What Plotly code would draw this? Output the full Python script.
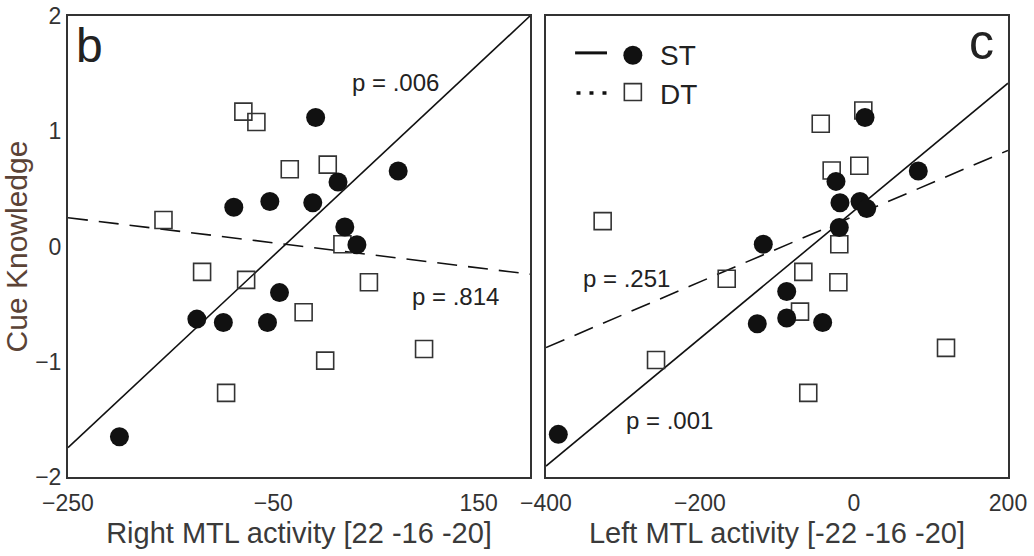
import plotly.graph_objects as go

# ---------------- data ----------------
# Panel b: Right MTL activity [22 -16 -20]
b_st_x = [-8.8, 71.6, 13.0, -88.5, -53.4, -11.6, 19.6, 31.4, -124.5, -98.7, -55.7, -44.0, -199.9]
b_st_y = [1.12, 0.655, 0.56, 0.34, 0.39, 0.38, 0.17, 0.015, -0.63, -0.66, -0.66, -0.40, -1.65]
b_dt_x = [-79.2, -66.5, -34.0, 3.0, -157.0, 17.3, -119.4, -76.5, 43.1, -20.5, 96.8, 0.5, -96.0]
b_dt_y = [1.17, 1.08, 0.67, 0.71, 0.23, 0.02, -0.22, -0.29, -0.31, -0.57, -0.89, -0.99, -1.27]
b_st_fit_x = [-250, 200]
b_st_fit_y = [-1.745, 2.0]
b_dt_fit_x = [-250, 200]
b_dt_fit_y = [0.25, -0.24]

# Panel c: Left MTL activity [-22 -16 -20]
c_st_x = [14.3, 83.5, -23.4, -18.2, 7.8, 16.5, -19.1, -117.8, -87.4, -125.6, -87.4, -40.7, -384.0]
c_st_y = [1.12, 0.655, 0.565, 0.38, 0.39, 0.33, 0.165, 0.02, -0.39, -0.67, -0.62, -0.66, -1.63]
c_dt_x = [12.1, -43.2, -29.0, 6.9, -326.4, -19.1, -165.3, -65.8, -20.3, -70.1, 119.5, -257.1, -59.4]
c_dt_y = [1.18, 1.065, 0.66, 0.70, 0.22, 0.02, -0.28, -0.22, -0.31, -0.565, -0.88, -0.985, -1.27]
c_st_fit_x = [-400, 200]
c_st_fit_y = [-1.905, 1.417]
c_dt_fit_x = [-400, 200]
c_dt_fit_y = [-0.877, 0.834]

b_xticks = [-250, -50, 150]
c_xticks = [-400, -200, 0, 200]
y_ticks = [-2, -1, 0, 1, 2]

p_labels = {
    "b_st": ("p = .006", 69, 1.42),
    "b_dt": ("p = .814", 127, -0.43),
    "c_dt": ("p = .251", -295, -0.28),
    "c_st": ("p = .001", -239, -1.51),
}

FONT = "Liberation Sans, Arial, Helvetica, sans-serif"
INK = "#222222"
FRAME = "#333333"

fig = go.Figure()


def add_panel(xa, ya, st_x, st_y, dt_x, dt_y, sfx, sfy, dfx, dfy):
    fig.add_trace(go.Scatter(x=sfx, y=sfy, mode="lines", xaxis=xa, yaxis=ya,
                             line=dict(color="#111111", width=1.6), showlegend=False,
                             hoverinfo="skip"))
    fig.add_trace(go.Scatter(x=dfx, y=dfy, mode="lines", xaxis=xa, yaxis=ya,
                             line=dict(color="#111111", width=1.6, dash="20px,11px"),
                             showlegend=False, hoverinfo="skip"))
    fig.add_trace(go.Scatter(x=dt_x, y=dt_y, mode="markers", xaxis=xa, yaxis=ya,
                             name="DT",
                             marker=dict(symbol="square-open", size=17, color="#333333",
                                         line=dict(width=1.6, color="#333333")),
                             showlegend=False))
    fig.add_trace(go.Scatter(x=st_x, y=st_y, mode="markers", xaxis=xa, yaxis=ya,
                             name="ST",
                             marker=dict(symbol="circle", size=19, color="#111111",
                                         line=dict(width=0)),
                             showlegend=False))


add_panel("x", "y", b_st_x, b_st_y, b_dt_x, b_dt_y, b_st_fit_x, b_st_fit_y, b_dt_fit_x, b_dt_fit_y)
add_panel("x2", "y2", c_st_x, c_st_y, c_dt_x, c_dt_y, c_st_fit_x, c_st_fit_y, c_dt_fit_x, c_dt_fit_y)

axis_common = dict(showline=True, mirror=True, linecolor=FRAME, linewidth=2,
                   showgrid=False, zeroline=False, ticks="", automargin=False,
                   ticklabeloverflow="allow",
                   tickfont=dict(family=FONT, size=23, color="#333333"))

fig.update_layout(
    width=1034, height=556,
    margin=dict(l=68, r=26, t=16, b=79),
    paper_bgcolor="white", plot_bgcolor="white",
    showlegend=False,
    xaxis=dict(domain=[0, 0.4915], range=[-250, 200], tickvals=b_xticks,
               ticklabelstandoff=4,
               title=dict(text="Right MTL activity [22 -16 -20]", standoff=8,
                          font=dict(family=FONT, size=29, color="#3a3a3a")),
               **axis_common),
    yaxis=dict(range=[-2, 2], tickvals=y_ticks, anchor="x",
               title=dict(text="Cue Knowledge", standoff=4,
                          font=dict(family=FONT, size=30, color="#5b4336")),
               **axis_common),
    xaxis2=dict(domain=[0.5085, 1], range=[-400, 200], tickvals=c_xticks, anchor="y2",
                ticklabelstandoff=4,
                title=dict(text="Left MTL activity [-22 -16 -20]", standoff=8,
                           font=dict(family=FONT, size=29, color="#3a3a3a")),
                **axis_common),
    yaxis2=dict(range=[-2, 2], tickvals=y_ticks, anchor="x2", showticklabels=False,
                **axis_common),
)

annotations = []
for key, (txt, ax_, ay_) in p_labels.items():
    xr, yr = ("x", "y") if key.startswith("b") else ("x2", "y2")
    annotations.append(dict(text=txt, x=ax_, y=ay_, xref=xr, yref=yr, showarrow=False,
                            xanchor="center", yanchor="middle",
                            font=dict(family=FONT, size=24, color=INK)))

annotations.append(dict(text="b", x=0.0465, y=0.935, xref="x domain", yref="y domain",
                        xanchor="center", yanchor="middle",
                        showarrow=False, font=dict(family=FONT, size=48, color=INK)))
annotations.append(dict(text="c", x=0.9416, y=0.944, xref="x2 domain", yref="y2 domain",
                        xanchor="center", yanchor="middle",
                        showarrow=False, font=dict(family=FONT, size=50, color=INK)))
annotations.append(dict(text="ST", x=0.242, y=0.915, xref="x2 domain", yref="y2 domain",
                        xanchor="left", yanchor="middle", showarrow=False,
                        font=dict(family=FONT, size=28, color=INK)))
annotations.append(dict(text="DT", x=0.242, y=0.829, xref="x2 domain", yref="y2 domain",
                        xanchor="left", yanchor="middle", showarrow=False,
                        font=dict(family=FONT, size=28, color=INK)))
fig.update_layout(annotations=annotations)

# hand-made legend glyphs (line + marker)
shapes = [
    dict(type="line", xref="x2 domain", yref="y2 domain", x0=0.063, x1=0.132, y0=0.92, y1=0.92,
         line=dict(color="#111111", width=3)),
    dict(type="circle", xref="x2 domain", yref="y2 domain", x0=0.188 - 0.0206, x1=0.188 + 0.0206,
         y0=0.915 - 0.0206, y1=0.915 + 0.0206, fillcolor="#111111", line=dict(width=0)),
    dict(type="line", xref="x2 domain", yref="y2 domain", x0=0.066, x1=0.135, y0=0.833, y1=0.833,
         line=dict(color="#111111", width=3.5, dash="4px,9px")),
    dict(type="rect", xref="x2 domain", yref="y2 domain", x0=0.188 - 0.0184, x1=0.188 + 0.0184,
         y0=0.835 - 0.0184, y1=0.835 + 0.0184, fillcolor="rgba(0,0,0,0)",
         line=dict(color="#333333", width=1.6)),
]
fig.update_layout(shapes=shapes)

# remove the browser's default 8px body margin so the figure fills the window exactly
fig.write_html("out.html", config={"displayModeBar": False},
               post_script="document.body.style.margin='0';")
